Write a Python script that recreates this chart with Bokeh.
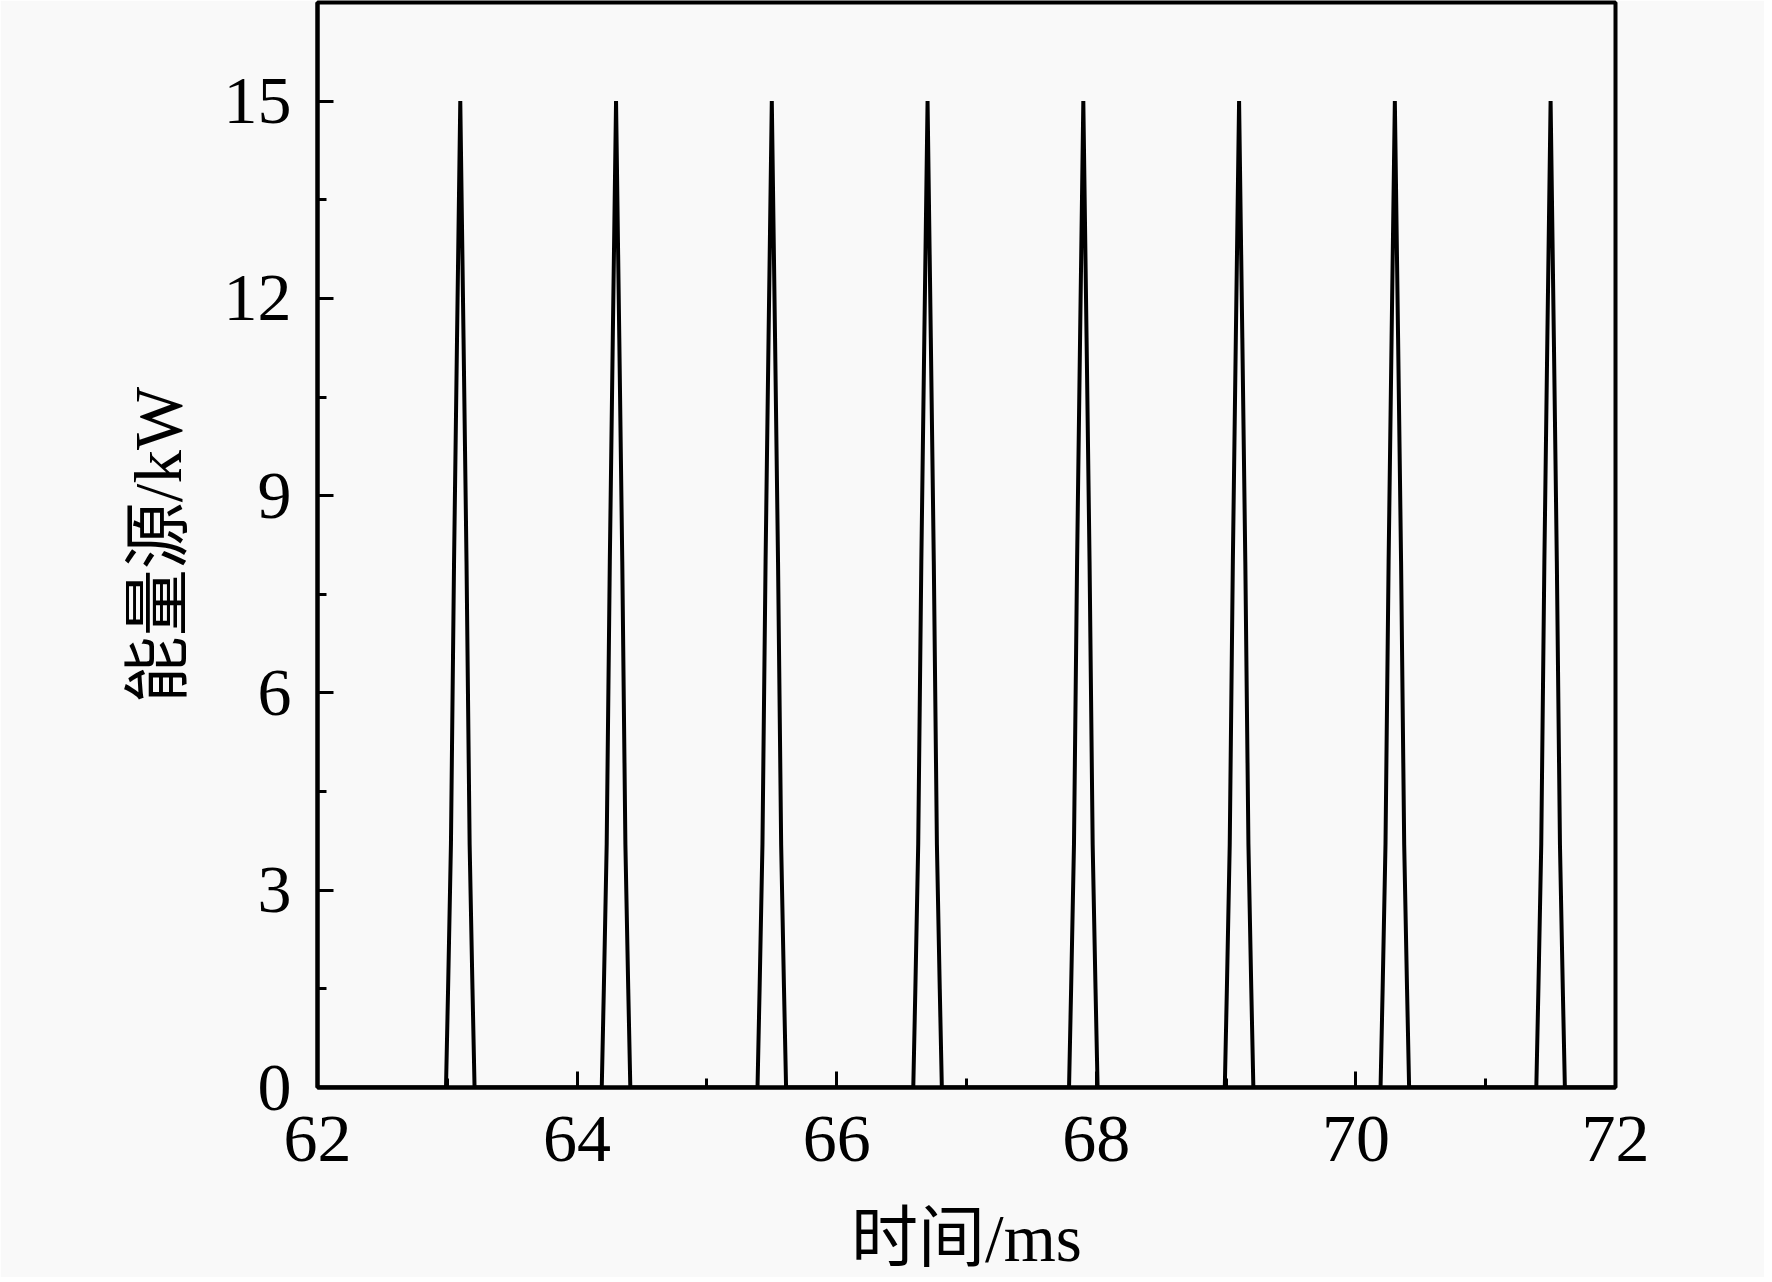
from bokeh.plotting import figure
from bokeh.models import Range1d, SingleIntervalTicker
from bokeh.embed import file_html
from bokeh.resources import INLINE

# ---- data ----
pulse_centers = [63.1, 64.3, 65.5, 66.7, 67.9, 69.1, 70.3, 71.5]   # ms
pulse_offset = [-0.110, -0.094, -0.072, -0.048, -0.025, 0.0, 0.025, 0.048, 0.072, 0.094, 0.110]  # ms
pulse_value = [0.0, 1.5, 3.7, 8.0, 11.4, 15.0, 11.4, 8.0, 3.7, 1.5, 0.0]  # kW
x_start, x_end = 62, 72
x_label = "时间/ms"
y_label = "能量源/kW"

xs = [x_start]
ys = [0.0]
for c in pulse_centers:
    for o, v in zip(pulse_offset, pulse_value):
        xs.append(c + o)
        ys.append(v)
xs.append(x_end)
ys.append(0.0)

FONT = "'Liberation Serif', 'Noto Sans CJK SC'"
BG = "#f9f9f9"

p = figure(frame_width=1298, frame_height=1085, output_backend="svg", toolbar_location=None,
           x_range=Range1d(62, 72), y_range=Range1d(0, 16.5),
           min_border_left=317, min_border_right=149, min_border_top=2, min_border_bottom=10)
p.background_fill_color = BG
p.border_fill_color = BG
p.grid.visible = False
p.outline_line_color = "black"
p.outline_line_width = 4

p.line(xs, ys, line_color="black", line_width=4)

p.xaxis.ticker = SingleIntervalTicker(interval=2, num_minor_ticks=2)
p.yaxis.ticker = SingleIntervalTicker(interval=3, num_minor_ticks=2)

for ax in (p.xaxis[0], p.yaxis[0]):
    ax.axis_line_width = 4
    ax.axis_line_color = "black"
    ax.major_tick_line_width = 3
    ax.minor_tick_line_width = 3
    ax.major_tick_line_color = "black"
    ax.minor_tick_line_color = "black"
    ax.major_tick_in = 16
    ax.major_tick_out = 0
    ax.minor_tick_in = 9
    ax.minor_tick_out = 0
    ax.major_label_text_font = FONT
    ax.major_label_text_font_size = "68px"
    ax.major_label_text_color = "black"
    ax.axis_label_text_font = FONT
    ax.axis_label_text_font_size = "67px"
    ax.axis_label_text_font_style = "normal"
    ax.axis_label_text_color = "black"

p.xaxis.axis_label = x_label
p.yaxis.axis_label = y_label
p.xaxis.major_label_standoff = 29
p.xaxis.axis_label_standoff = 37
p.yaxis.major_label_standoff = 26
p.yaxis.axis_label_standoff = 26

open("out.html", "w").write(file_html(p, INLINE))
